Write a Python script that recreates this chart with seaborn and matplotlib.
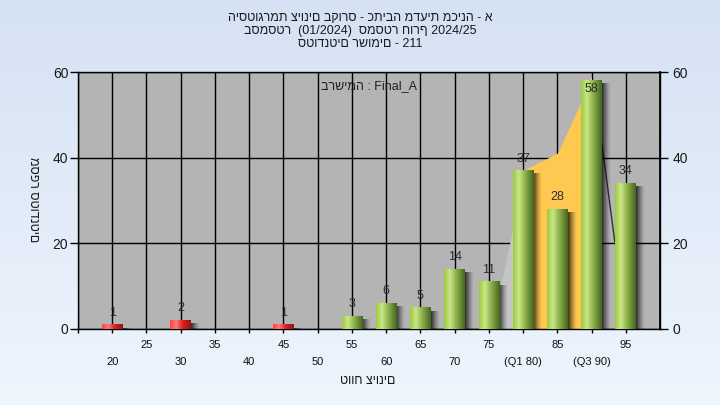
import numpy as np
import matplotlib
matplotlib.use('Agg')
import matplotlib.pyplot as plt
import seaborn as sns
import pandas as pd
from matplotlib.colors import LinearSegmentedColormap

# ---------------- data ----------------
grades = [20, 25, 30, 35, 40, 45, 50, 55, 60, 65, 70, 75, 80, 85, 90, 95]
counts = [1, 0, 2, 0, 0, 1, 0, 3, 6, 5, 14, 11, 37, 28, 58, 34]
tick_labels = ['20', '25', '30', '35', '40', '45', '50', '55', '60', '65',
               '70', '75', '(Q1 80)', '85', '(Q3 90)', '95']
pass_mark = 55
y_ticks = [0, 20, 40, 60]
title_lines = ['היסטוגרמת ציונים בקורס - כתיבה מדעית מכינה - א',
               'בסמסטר  (01/2024)  סמסטר חורף 2024/25',
               'סטודנטים רשומים - 211']
legend_text = 'ברשימה : Final_A'
x_label = 'טווח ציונים'
y_label = 'מספר סטודנטים'
# background spread shape (category-index units, counts)
lead_x = [11.08, 11.73, 12.0]
lead_y = [0.0, 24.7, 37.0]
iqr_x = [12.0, 13.01, 13.68, 14.0]
iqr_y = [37.0, 41.1, 52.8, 59.0]
tail_x = [14.30, 14.68]
tail_y = [43.4, 20.3]

# ---------------- style ----------------
sns.set_theme(style='white')
plt.rcParams['font.family'] = ['Liberation Sans', 'DejaVu Sans']

W, H = 720, 405
fig = plt.figure(figsize=(W / 100, H / 100), dpi=100)

# background gradient
bg = fig.add_axes([0, 0, 1, 1], zorder=-10)
bg_cmap = LinearSegmentedColormap.from_list('bg', ['#d5e2f3', '#eef5fd'])
bg.imshow(np.linspace(0, 1, 256)[:, None], aspect='auto', cmap=bg_cmap,
          extent=(0, 1, 0, 1), origin='upper')
bg.set_axis_off()

ax = fig.add_axes([78 / W, 1 - 329 / H, 582 / W, 257 / H])
ax.set_facecolor('#b4b4b4')

df = pd.DataFrame({'grade': [str(g) for g in grades], 'count': counts,
                   'grp': ['fail' if g < pass_mark else 'pass' for g in grades]})
sns.barplot(data=df, x='grade', y='count', hue='grp', order=[str(g) for g in grades],
            palette={'fail': '#e03030', 'pass': '#9cc24a'}, width=0.6, dodge=False,
            legend=False, saturation=1, ax=ax, zorder=3, edgecolor='none')

# background spread area
ax.fill_between(lead_x, 0, lead_y, color='#c4c4c4', lw=0, zorder=1)
ax.fill_between(iqr_x, 0, iqr_y, color='#ffc850', lw=0, zorder=1)
ax.plot(tail_x, tail_y, color='#303030', lw=1, zorder=1.5)

green = LinearSegmentedColormap.from_list('g', [(0, '#9ccb3c'), (0.28, '#cbe68a'),
                                                (0.55, '#93b84e'), (1, '#46661f')])
red = LinearSegmentedColormap.from_list('r', [(0, '#ff4040'), (0.3, '#ff7a7a'),
                                              (0.6, '#dd2020'), (1, '#9a1414')])
shade = np.zeros((1, 32, 4))
shade[..., 3] = 0.75 * np.linspace(1.0, 0.0, 32) ** 1.3

for p in ax.patches:
    h = p.get_height()
    if h <= 0:
        continue
    x0, w = p.get_x(), p.get_width()
    idx = int(round(x0 + w / 2))
    cm = red if grades[idx] < pass_mark else green
    ax.imshow(cm(np.linspace(0, 1, 64))[None, :, :], aspect='auto',
              extent=(x0, x0 + w, 0, h), zorder=4, interpolation='bilinear')
    ax.imshow(shade, aspect='auto', extent=(x0 + w, x0 + w + 0.25, 0, max(h - 0.8, 0)),
              zorder=2.5, interpolation='bilinear')
    ty = min(h + 2.8, 56.0)
    ax.text(x0 + w / 2, ty, str(counts[idx]), ha='center', va='center',
            fontsize=9, color='#2a2a3a', zorder=6)

ax.set_xlim(-1, 16)
ax.set_ylim(0, 60)

# grid & ticks
ax.set_xticks(range(0, 16, 2))
ax.set_xticklabels(tick_labels[0::2])
ax.set_xticks([-1] + list(range(1, 16, 2)), minor=True)
ax.set_xticklabels([''] + tick_labels[1::2], minor=True)
ax.tick_params(axis='x', which='major', length=3, width=1, color='black',
               pad=17.5, labelsize=8, labelcolor='#111111', direction='out', bottom=True)
ax.tick_params(axis='x', which='minor', length=3, width=1, color='black',
               pad=5, labelsize=8, labelcolor='#111111', direction='out', bottom=True)
ax.set_yticks(y_ticks)
ax.tick_params(axis='y', length=6, width=1, color='black', pad=1,
               labelsize=10, labelcolor='#1a1a1a', direction='out', left=True)
ax.set_axisbelow(True)
ax.grid(True, which='both', axis='x', color='black', lw=1)
ax.grid(True, which='major', axis='y', color='black', lw=1)
for s in ['left', 'bottom', 'right', 'top']:
    ax.spines[s].set_color('black')
    ax.spines[s].set_linewidth(1)
ax.set_xlabel('')
ax.set_ylabel('')

ax2 = ax.twinx()
ax2.set_ylim(0, 60)
ax2.set_yticks(y_ticks)
ax2.tick_params(axis='y', length=6, width=1, color='black', pad=3,
                labelsize=10, labelcolor='#1a1a1a', direction='out', right=True)
ax2.grid(False)
for s in ['left', 'bottom', 'top']:
    ax2.spines[s].set_visible(False)
ax2.spines['right'].set_color('black')

ax.text(0.5, 0.946, legend_text, transform=ax.transAxes, ha='center', va='center',
        fontsize=9, color='#202020', zorder=7)

title_y = [18, 31, 44]
for t, yy in zip(title_lines, title_y):
    fig.text(0.5, 1 - yy / H, t, ha='center', va='center', fontsize=9, color='#1a1a1a')
fig.text(368 / W, 1 - 381 / H, x_label, ha='center', va='center', fontsize=9, color='#1a1a1a')
fig.text(33 / W, 1 - 200 / H, y_label, ha='center', va='center', rotation=-90,
         fontsize=9, color='#1a1a1a')

fig.savefig('out.png', dpi=100)
